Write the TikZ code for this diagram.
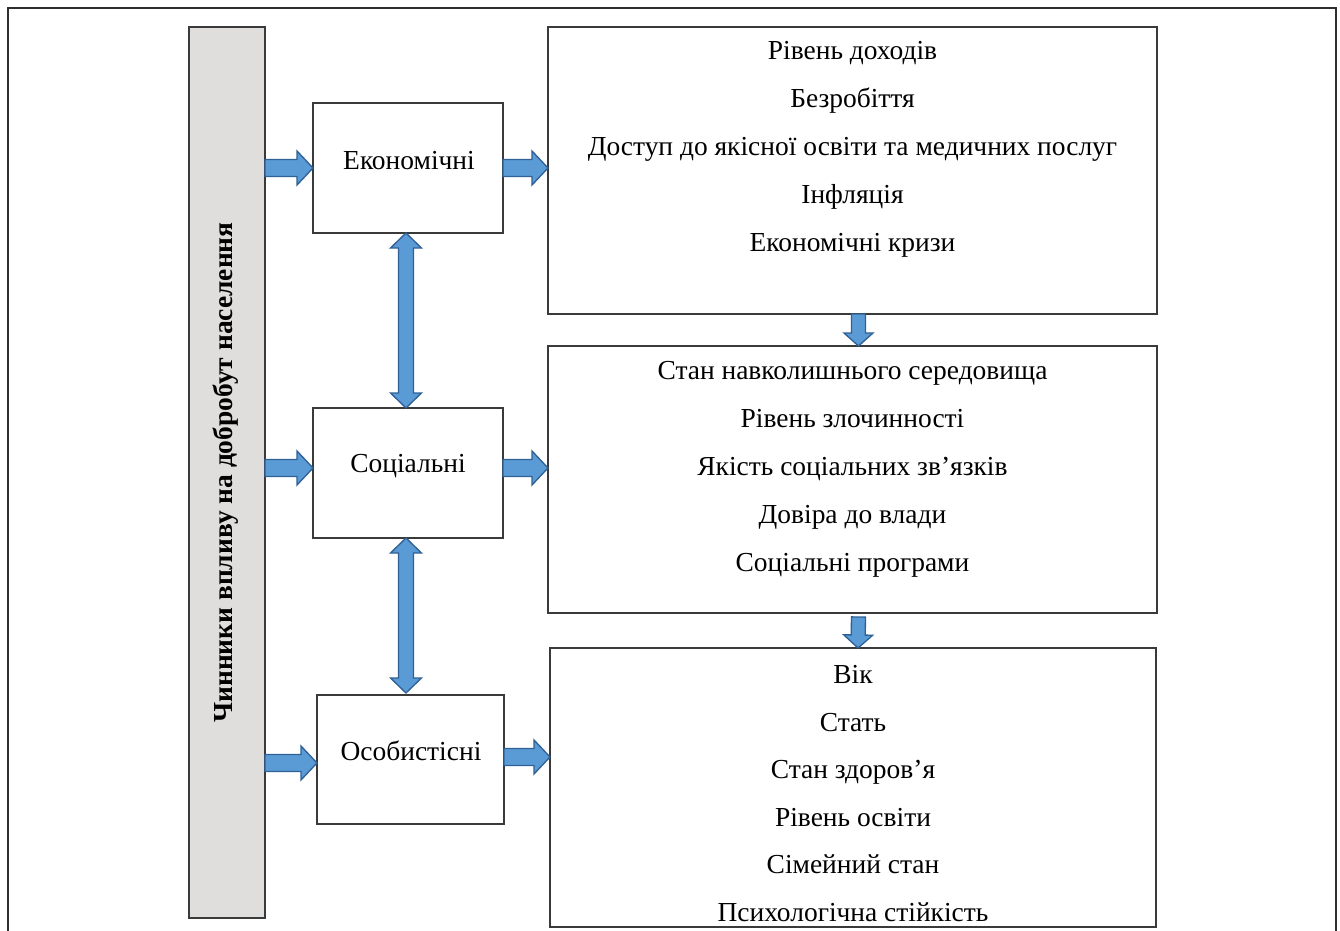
\documentclass[tikz,border=0pt]{standalone}
\usepackage{fontspec}
\setmainfont{Liberation Serif}
\usetikzlibrary{calc}
\definecolor{arrfill}{HTML}{5B9BD5}
\definecolor{arrdraw}{HTML}{2F6196}
\definecolor{bargray}{HTML}{DFDEDD}
\definecolor{boxline}{HTML}{3A3A3A}
\definecolor{frameline}{HTML}{2E2E2E}
\tikzset{
  box/.style={draw=boxline, line width=0.9pt, fill=white, inner sep=0pt, outer sep=0pt},
  barbox/.style={box, fill=bargray},
  lbl/.style={font=\fontsize{20.6pt}{24pt}\selectfont, inner sep=0pt, anchor=base},
  item/.style={font=\fontsize{20.6pt}{24pt}\selectfont, inner sep=0pt, anchor=base},
  vtitle/.style={font=\fontsize{20.6pt}{24pt}\selectfont\bfseries, inner sep=0pt, rotate=90},
  blk/.style={fill=arrfill, draw=arrdraw, line width=1pt, line join=miter},
}
% single block arrow: from, to, half shaft (px), half head (px), head length (px)
\newcommand{\blkarrow}[5]{%
  \path (#1) coordinate (ba) (#2) coordinate (bb);
  \path ($(bb)!#5*0.75pt!(ba)$) coordinate (bc);
  \filldraw[blk] ($(ba)!#3*0.75pt!90:(bb)$) -- ($(bc)!#3*0.75pt!-90:(ba)$)
    -- ($(bc)!#4*0.75pt!-90:(ba)$) -- (bb) -- ($(bc)!#4*0.75pt!90:(ba)$)
    -- ($(bc)!#3*0.75pt!90:(ba)$) -- ($(ba)!#3*0.75pt!-90:(bb)$) -- cycle;
}
% double block arrow
\newcommand{\dblarrow}[5]{%
  \path (#1) coordinate (ba) (#2) coordinate (bb);
  \path ($(ba)!#5*0.75pt!(bb)$) coordinate (bc1) ($(bb)!#5*0.75pt!(ba)$) coordinate (bc2);
  \filldraw[blk] (ba) -- ($(bc1)!#4*0.75pt!90:(bb)$) -- ($(bc1)!#3*0.75pt!90:(bb)$)
    -- ($(bc2)!#3*0.75pt!-90:(ba)$) -- ($(bc2)!#4*0.75pt!-90:(ba)$) -- (bb)
    -- ($(bc2)!#4*0.75pt!90:(ba)$) -- ($(bc2)!#3*0.75pt!90:(ba)$)
    -- ($(bc1)!#3*0.75pt!-90:(bb)$) -- ($(bc1)!#4*0.75pt!-90:(bb)$) -- cycle;
}
\begin{document}
\begin{tikzpicture}[x=0.75pt,y=-0.75pt]
\useasboundingbox (0,0) rectangle (1340,931);
\clip (0,0) rectangle (1340,931);
% outer frame (bottom edge lies below the visible area)
\draw[frameline, line width=1.6pt] (8,945) -- (8,8) -- (1336,8) -- (1336,945);

% left vertical bar
\node[barbox, minimum width=57pt, minimum height=668.25pt] (bar) at (227,472.5) {};
\node[vtitle] (title) at (226,472.5) {Чинники впливу на добробут населення};

% category boxes
\node[box, minimum width=142.5pt, minimum height=97.5pt] (eco) at (408,168) {};
\node[box, minimum width=142.5pt, minimum height=97.5pt] (soc) at (408,473) {};
\node[box, minimum width=140.25pt, minimum height=96.75pt] (pers) at (410.5,759.5) {};
\node[lbl] (ecot) at (409,169.5) {Економічні};
\node[lbl] (soct) at (408,472.5) {Соціальні};
\node[lbl] (perst) at (411,760.5) {Особистісні};

% detail boxes
\node[box, minimum width=456.75pt, minimum height=215.25pt] (r1) at (852.5,170.5) {};
\node[box, minimum width=456.75pt, minimum height=200.25pt] (r2) at (852.5,479.5) {};
\node[box, minimum width=454.5pt, minimum height=209.25pt] (r3) at (853,787.5) {};

\foreach \t [count=\i] in {Рівень доходів, Безробіття, Доступ до якісної освіти та медичних послуг, Інфляція, Економічні кризи}
  \node[item] (a\i) at (852.5, {59.5+48*(\i-1)}) {\t};
\foreach \t [count=\i] in {Стан навколишнього середовища, Рівень злочинності, Якість соціальних зв’язків, Довіра до влади, Соціальні програми}
  \node[item] (b\i) at (852.5, {379.5+48*(\i-1)}) {\t};
\foreach \t [count=\i] in {Вік, Стать, Стан здоров’я, Рівень освіти, Сімейний стан, Психологічна стійкість}
  \node[item] (c\i) at (853, {683.5+47.6*(\i-1)}) {\t};

% arrows from the bar to the categories
\blkarrow{bar.east |- eco.west}{eco.west}{8.5}{17}{16}
\blkarrow{$(bar.east |- soc.west)+(0,-5)$}{$(soc.west)+(0,-5)$}{8.5}{17}{16}
\blkarrow{$(bar.east |- pers.west)+(0,3.5)$}{$(pers.west)+(0,3.5)$}{8.5}{17}{16}
% arrows from the categories to the detail boxes
\blkarrow{eco.east}{eco.east -| r1.west}{8.5}{17}{16}
\blkarrow{$(soc.east)+(0,-5)$}{$(soc.east -| r2.west)+(0,-5)$}{8.5}{17}{16}
\blkarrow{$(pers.east)+(0,-2.5)$}{$(pers.east -| r3.west)+(0,-2.5)$}{8.5}{17}{16}
% arrows between detail boxes
\blkarrow{$(r1.south)+(6,0)$}{$(r2.north)+(6,0)$}{7}{14.5}{13}
\blkarrow{$(r2.south)+(6,4)$}{$(r3.north)+(5,0)$}{7}{14.5}{13}
% double arrows between categories
\dblarrow{$(eco.south)+(-2,0)$}{$(soc.north)+(-2,0)$}{7.5}{15.5}{15}
\dblarrow{$(soc.south)+(-2,0)$}{$(pers.north)+(-4.5,-2)$}{7.5}{15.5}{15}
\end{tikzpicture}
\end{document}
